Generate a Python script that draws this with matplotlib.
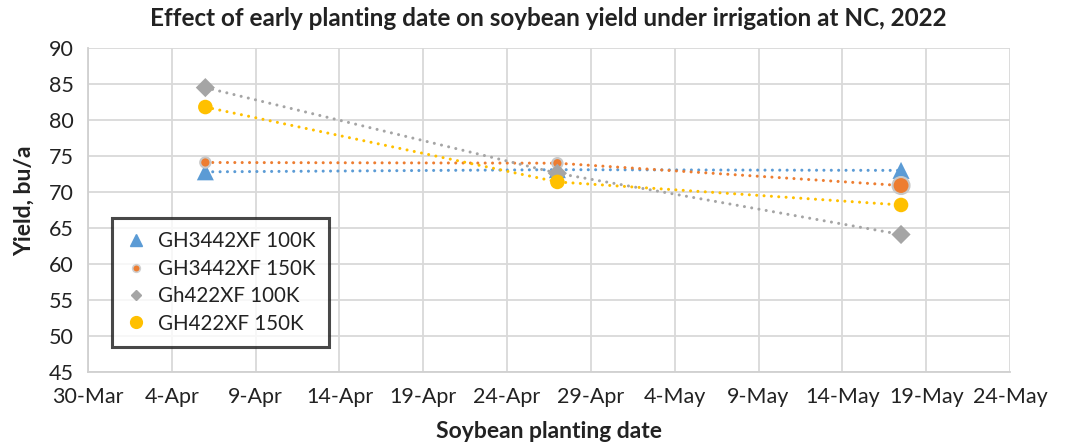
import matplotlib
matplotlib.use("Agg")
import matplotlib.pyplot as plt
from matplotlib.lines import Line2D
import datetime as dt

# ---- data ----
dates = ["2022-04-06", "2022-04-27", "2022-05-17 12:00"]
series_names = ["GH3442XF 100K", "GH3442XF 150K", "Gh422XF 100K", "GH422XF 150K"]
gh3442_100k = [72.8, 73.1, 73.0]
gh3442_150k = [74.1, 74.0, 70.9]
gh422_100k = [84.5, 72.6, 64.1]
gh422_150k = [81.8, 71.4, 68.2]
x_ticks = ["2022-03-30", "2022-04-04", "2022-04-09", "2022-04-14", "2022-04-19",
           "2022-04-24", "2022-04-29", "2022-05-04", "2022-05-09", "2022-05-14",
           "2022-05-19", "2022-05-24"]
y_ticks = [45, 50, 55, 60, 65, 70, 75, 80, 85, 90]

plt.rcParams['font.family'] = ['Lato', 'DejaVu Sans']

x = [dt.datetime.fromisoformat(d) for d in dates]
xt = [dt.datetime.fromisoformat(d) for d in x_ticks]

fig = plt.figure(figsize=(10.72, 4.46), dpi=100)
ax = fig.add_axes([88/1072, 1-372/446, 922/1072, 324/446])

blue, orange, gray, yellow = "#5B9BD5", "#ED7D31", "#A5A5A5", "#FFC000"
dot = (0, (0.01, 2.4))
lkw = dict(lw=2.2, linestyle=dot, dash_capstyle='round', zorder=3)

series = [
    (gh3442_100k, blue, '^', [150, 150, 150], blue),
    (gh3442_150k, orange, 'o', [55, 55, 150], "#C8C8C8"),
    (gh422_100k, gray, 'D', [95, 95, 95], gray),
    (gh422_150k, yellow, 'o', [110, 110, 110], yellow),
]
for vals, c, m, s, ec in series:
    ax.plot(x, vals, color=c, **lkw)
for i, (vals, c, m, s, ec) in enumerate(series):
    ax.scatter(x, vals, s=s, marker=m, color=c, edgecolors=ec,
               linewidths=1.5 if ec != c else 0, zorder=4 + i)

ax.set_xlim(xt[0], xt[-1])
ax.set_ylim(45, 90)
ax.set_xticks(xt)
ax.set_xticklabels([f"{d.day}-{d.strftime('%b')}" for d in xt])
ax.set_yticks(y_ticks)
ax.grid(True, color="#D9D9D9", lw=1.3)
ax.set_axisbelow(True)
for sp in ax.spines.values():
    sp.set_visible(False)
for side in ('left', 'bottom'):
    ax.spines[side].set_visible(True)
    ax.spines[side].set_color("#D0D0D0")
    ax.spines[side].set_linewidth(1.3)
ax.tick_params(axis='both', length=0, labelsize=15.5, colors="#222222")
ax.tick_params(axis='y', pad=10)
ax.tick_params(axis='x', pad=11)

ax.set_ylabel("Yield, bu/a", fontsize=16.5, fontweight='bold', color="#222222")
ax.yaxis.set_label_coords(-0.058, 0.53)
ax.set_xlabel("Soybean planting date", fontsize=16.5, fontweight='bold', color="#222222")
ax.xaxis.set_label_coords(0.5, -0.152)

fig.text(548/1072, 1-18/446, "Effect of early planting date on soybean yield under irrigation at NC, 2022",
         ha='center', va='center', fontsize=17.5, fontweight='bold', color="#222222")

handles = [
    Line2D([], [], linestyle='none', marker='^', color=blue, markersize=8),
    Line2D([], [], linestyle='none', marker='o', color=orange, markersize=5.5,
           markeredgecolor="#D0D0D0", markeredgewidth=1.2),
    Line2D([], [], linestyle='none', marker='D', color=gray, markersize=5.5),
    Line2D([], [], linestyle='none', marker='o', color=yellow, markersize=8.5),
]
leg = ax.legend(handles, series_names, loc='upper left',
                bbox_to_anchor=((112-88)/922, (372-218)/324),
                fontsize=14.8, frameon=True, fancybox=False,
                handlelength=1.0, handletextpad=0.6, borderpad=0.65,
                labelspacing=0.36, borderaxespad=0)
leg.get_frame().set_edgecolor("#1a1a1a")
leg.get_frame().set_linewidth(2.2)
for t in leg.get_texts():
    t.set_color("#222222")

fig.savefig("out.png", dpi=100)
